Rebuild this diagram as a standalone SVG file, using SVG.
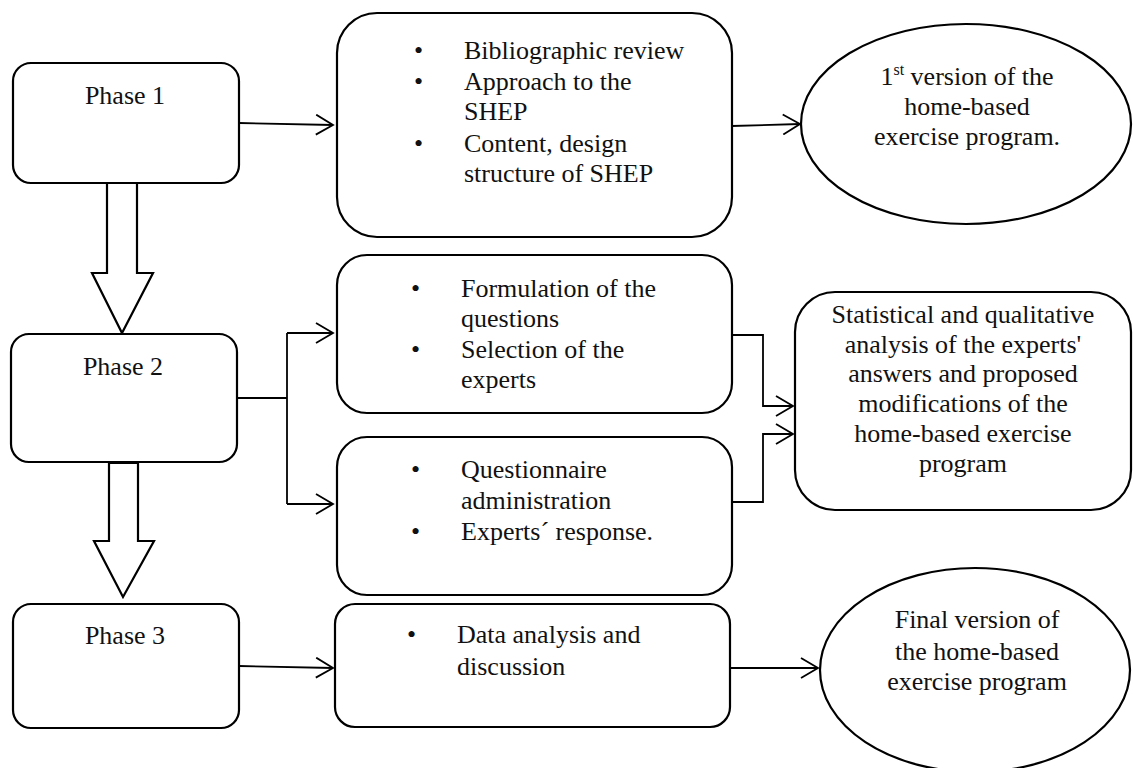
<svg xmlns="http://www.w3.org/2000/svg" width="1133" height="768" viewBox="0 0 1133 768">
<style>
.box{fill:#fff;stroke:#000;stroke-width:2.2}
.t{font-family:'Liberation Serif','Times New Roman','DejaVu Serif',serif;font-size:26px;fill:#111}
.c{text-anchor:middle}
.ln{fill:none;stroke:#000;stroke-width:1.8}
.big{fill:#fff;stroke:#000;stroke-width:2.2;stroke-linejoin:miter}
</style>
<defs>
<marker id="ah" markerWidth="20" markerHeight="22" refX="18" refY="11" orient="auto" markerUnits="userSpaceOnUse">
<path d="M1,1 L18,11 L1,21" fill="none" stroke="#000" stroke-width="1.8"/>
</marker>
</defs>
<rect width="1133" height="768" fill="#fff"/>
<g id="connectors">
<line class="ln" x1="239" y1="123" x2="333" y2="125" marker-end="url(#ah)"/>
<line class="ln" x1="732" y1="126" x2="800" y2="124" marker-end="url(#ah)"/>
<polyline class="ln" points="237,398 287,398"/>
<polyline class="ln" points="287,333 287,504"/>
<line class="ln" x1="287" y1="333" x2="333" y2="333" marker-end="url(#ah)"/>
<line class="ln" x1="287" y1="504" x2="333" y2="504" marker-end="url(#ah)"/>
<polyline class="ln" points="732,335 763,335 763,406 793,406" marker-end="url(#ah)"/>
<polyline class="ln" points="732,502 763,502 763,434 793,434" marker-end="url(#ah)"/>
<line class="ln" x1="239" y1="666" x2="333" y2="668" marker-end="url(#ah)"/>
<line class="ln" x1="730" y1="668" x2="818" y2="668" marker-end="url(#ah)"/>
<polygon class="big" points="107,183 137,183 137,273 153,273 122,333 92,273 107,273"/>
<polygon class="big" points="109,463 138,463 138,541 154,541 123,597 94,541 109,541"/>
</g>
<g id="phase1">
<rect class="box" x="13" y="63" width="226" height="120" rx="18"/>
<text class="t c" x="125" y="104" font-family="Liberation Serif, serif">Phase 1</text>
</g>
<g id="phase1-tasks">
<rect class="box" x="337" y="13" width="395" height="224" rx="40"/>
<text class="t" x="414" y="59">•</text>
<text class="t" x="464" y="59">Bibliographic review</text>
<text class="t" x="414" y="90">•</text>
<text class="t" x="464" y="90">Approach to the</text>
<text class="t" x="464" y="120">SHEP</text>
<text class="t" x="414" y="152">•</text>
<text class="t" x="464" y="152">Content, design</text>
<text class="t" x="464" y="182">structure of SHEP</text>
</g>
<g id="version1">
<ellipse class="box" cx="966" cy="124" rx="165" ry="100"/>
<text class="t c" x="967" y="85">1<tspan font-size="16" dy="-10">st</tspan><tspan dy="10"> version of the</tspan></text>
<text class="t c" x="967" y="115">home-based</text>
<text class="t c" x="967" y="145">exercise program.</text>
</g>
<g id="phase2">
<rect class="box" x="11" y="334" width="226" height="128" rx="18"/>
<text class="t c" x="123" y="375">Phase 2</text>
</g>
<g id="phase2-tasks-a">
<rect class="box" x="337" y="255" width="395" height="158" rx="30"/>
<text class="t" x="411" y="297">•</text>
<text class="t" x="461" y="297">Formulation of the</text>
<text class="t" x="461" y="327">questions</text>
<text class="t" x="411" y="358">•</text>
<text class="t" x="461" y="358">Selection of the</text>
<text class="t" x="461" y="388">experts</text>
</g>
<g id="phase2-tasks-b">
<rect class="box" x="337" y="437" width="395" height="158" rx="30"/>
<text class="t" x="411" y="478">•</text>
<text class="t" x="461" y="478">Questionnaire</text>
<text class="t" x="461" y="509">administration</text>
<text class="t" x="411" y="540">•</text>
<text class="t" x="461" y="540">Experts´ response.</text>
</g>
<g id="analysis">
<rect class="box" x="795" y="292" width="336" height="218" rx="40"/>
<text class="t c" x="963" y="323">Statistical and qualitative</text>
<text class="t c" x="963" y="353">analysis of the experts'</text>
<text class="t c" x="963" y="382">answers and proposed</text>
<text class="t c" x="963" y="412">modifications of the</text>
<text class="t c" x="963" y="442">home-based exercise</text>
<text class="t c" x="963" y="472">program</text>
</g>
<g id="phase3">
<rect class="box" x="13" y="604" width="226" height="124" rx="18"/>
<text class="t c" x="125" y="644">Phase 3</text>
</g>
<g id="phase3-tasks">
<rect class="box" x="335" y="604" width="395" height="123" rx="20"/>
<text class="t" x="407" y="643">•</text>
<text class="t" x="457" y="643">Data analysis and</text>
<text class="t" x="457" y="675">discussion</text>
</g>
<g id="final-version">
<ellipse class="box" cx="975" cy="670" rx="155" ry="102"/>
<text class="t c" x="977" y="628">Final version of</text>
<text class="t c" x="977" y="660">the home-based</text>
<text class="t c" x="977" y="690">exercise program</text>
</g>
</svg>
